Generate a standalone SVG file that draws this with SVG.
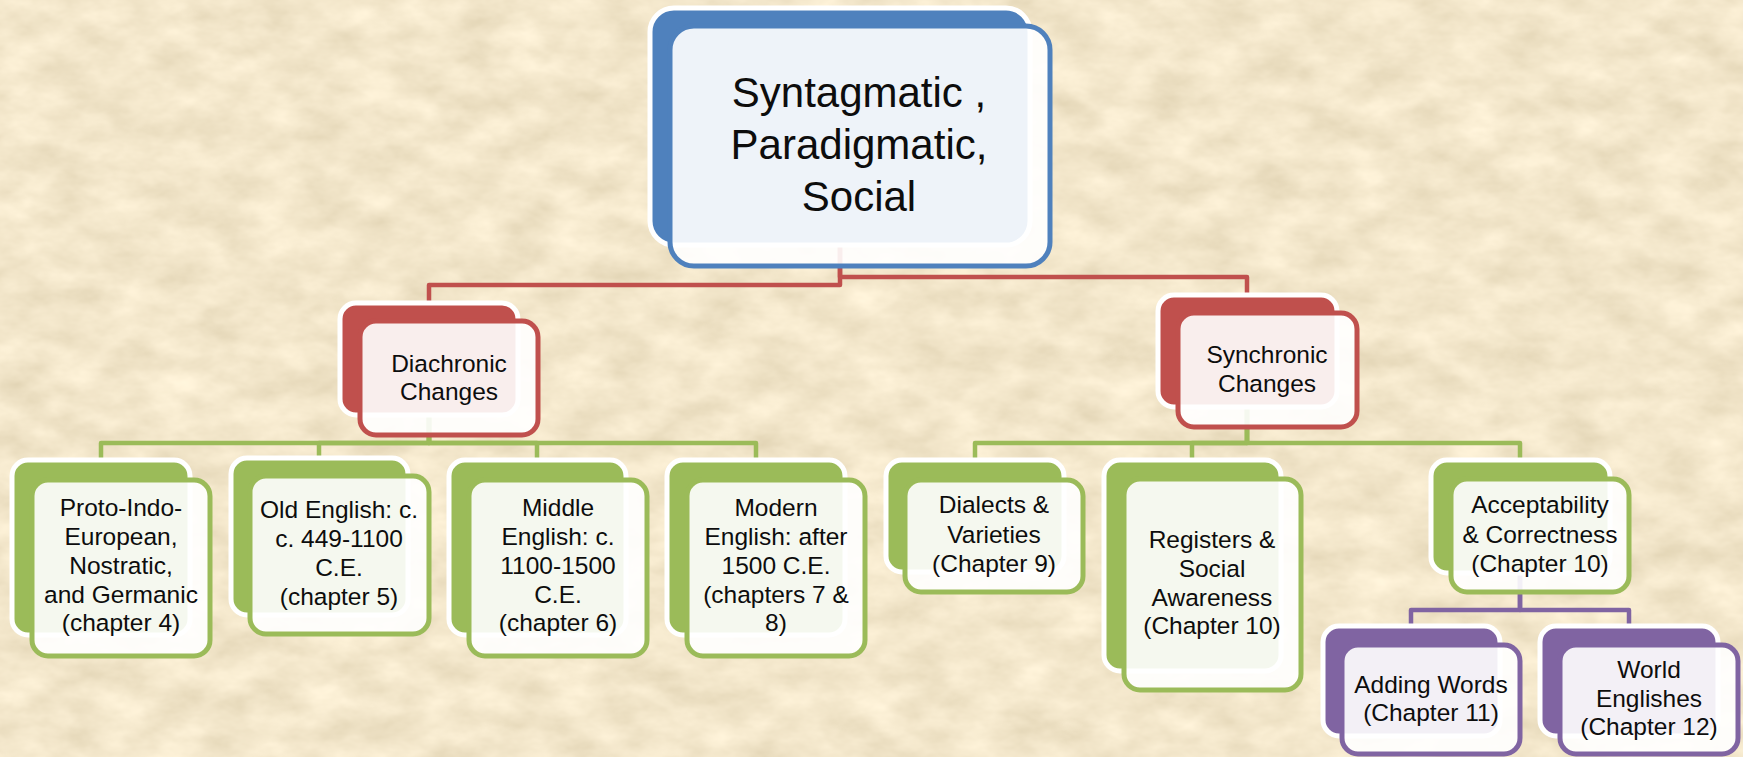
<svg xmlns="http://www.w3.org/2000/svg" width="1743" height="757" viewBox="0 0 1743 757">
<defs>
<filter id="paper" x="0" y="0" width="100%" height="100%" filterUnits="userSpaceOnUse">
<feTurbulence type="fractalNoise" baseFrequency="0.02 0.035" numOctaves="4" seed="7" result="n"/>
<feColorMatrix in="n" type="matrix" values="0.3 0 0 0 0.745  0.3 0 0 0 0.645  0.3 0 0 0 0.445  0 0 0 0 1"/>
</filter>
<style>
.t{font-family:"Liberation Sans",Arial,sans-serif;font-size:24.5px;fill:#0d0d0d;text-anchor:middle}
.tr{font-family:"Liberation Sans",Arial,sans-serif;font-size:42px;fill:#0d0d0d;text-anchor:middle}
.bk{stroke:#ffffff;stroke-width:5}
.fr{fill:#ffffff;fill-opacity:0.9;stroke-width:5}
.blue .bk{fill:#4f81bd}.blue .fr{stroke:#4f81bd}
.red .bk{fill:#c0504d}.red .fr{stroke:#c0504d}
.green .bk{fill:#9bbb59}.green .fr{stroke:#9bbb59}
.purple .bk{fill:#8064a2}.purple .fr{stroke:#8064a2}
.c{fill:none;stroke-width:4.5;stroke-linejoin:round}
.cr{stroke:#c0504d}.cg{stroke:#9bbb59}.cp{stroke:#8064a2}
</style>
</defs>
<rect x="0" y="0" width="1743" height="757" fill="#e6cd9c"/>
<rect x="0" y="0" width="1743" height="757" filter="url(#paper)"/>
<g id="connectors">
<path class="c cr" d="M840,245 V285 H429 V303"/>
<path class="c cr" d="M840,245 V277 H1247 V295"/>
<path class="c cg" d="M429,415 V443 H101 V460"/>
<path class="c cg" d="M429,415 V443 H319 V458"/>
<path class="c cg" d="M429,415 V443 H537 V460"/>
<path class="c cg" d="M429,415 V443 H756 V460"/>
<path class="c cg" d="M1247,407 V443 H975 V460"/>
<path class="c cg" d="M1247,407 V443 H1192 V460"/>
<path class="c cg" d="M1247,407 V443 H1520 V460"/>
<path class="c cp" d="M1520,573 V610 H1411 V626"/>
<path class="c cp" d="M1520,573 V610 H1629 V626"/>
</g>
<g id="root" class="blue">
<rect class="bk" x="650" y="8" width="380" height="237" rx="24"/>
<rect class="fr" x="670" y="26" width="380" height="240" rx="24"/>
<text class="tr" x="859" y="107">Syntagmatic ,</text>
<text class="tr" x="859" y="159">Paradigmatic,</text>
<text class="tr" x="859" y="211">Social</text>
</g>
<g id="diachronic" class="red">
<rect class="bk" x="340" y="303" width="178" height="112" rx="16"/>
<rect class="fr" x="360" y="321" width="178" height="114" rx="16"/>
<text class="t" x="449" y="372">Diachronic</text>
<text class="t" x="449" y="400">Changes</text>
</g>
<g id="synchronic" class="red">
<rect class="bk" x="1158" y="295" width="179" height="112" rx="16"/>
<rect class="fr" x="1178" y="313" width="179" height="114" rx="16"/>
<text class="t" x="1267" y="363">Synchronic</text>
<text class="t" x="1267" y="392">Changes</text>
</g>
<g id="proto" class="green">
<rect class="bk" x="12" y="460" width="178" height="175" rx="16"/>
<rect class="fr" x="32" y="480" width="178" height="176" rx="16"/>
<text class="t" x="121" y="516">Proto-Indo-</text>
<text class="t" x="121" y="545">European,</text>
<text class="t" x="121" y="574">Nostratic,</text>
<text class="t" x="121" y="603">and Germanic</text>
<text class="t" x="121" y="631">(chapter 4)</text>
</g>
<g id="old-english" class="green">
<rect class="bk" x="231" y="458" width="177" height="157" rx="16"/>
<rect class="fr" x="250" y="476" width="179" height="158" rx="16"/>
<text class="t" x="339" y="518">Old English: c.</text>
<text class="t" x="339" y="547">c. 449-1100</text>
<text class="t" x="339" y="576">C.E.</text>
<text class="t" x="339" y="605">(chapter 5)</text>
</g>
<g id="middle-english" class="green">
<rect class="bk" x="449" y="460" width="177" height="175" rx="16"/>
<rect class="fr" x="469" y="480" width="178" height="176" rx="16"/>
<text class="t" x="558" y="516">Middle</text>
<text class="t" x="558" y="545">English: c.</text>
<text class="t" x="558" y="574">1100-1500</text>
<text class="t" x="558" y="603">C.E.</text>
<text class="t" x="558" y="631">(chapter 6)</text>
</g>
<g id="modern-english" class="green">
<rect class="bk" x="667" y="460" width="178" height="175" rx="16"/>
<rect class="fr" x="687" y="480" width="178" height="176" rx="16"/>
<text class="t" x="776" y="516">Modern</text>
<text class="t" x="776" y="545">English: after</text>
<text class="t" x="776" y="574">1500 C.E.</text>
<text class="t" x="776" y="603">(chapters 7 &amp;</text>
<text class="t" x="776" y="631">8)</text>
</g>
<g id="dialects" class="green">
<rect class="bk" x="886" y="460" width="178" height="112" rx="16"/>
<rect class="fr" x="905" y="480" width="178" height="112" rx="16"/>
<text class="t" x="994" y="513">Dialects &amp;</text>
<text class="t" x="994" y="543">Varieties</text>
<text class="t" x="994" y="572">(Chapter 9)</text>
</g>
<g id="registers" class="green">
<rect class="bk" x="1104" y="460" width="177" height="211" rx="16"/>
<rect class="fr" x="1124" y="479" width="177" height="211" rx="16"/>
<text class="t" x="1212" y="548">Registers &amp;</text>
<text class="t" x="1212" y="577">Social</text>
<text class="t" x="1212" y="606">Awareness</text>
<text class="t" x="1212" y="634">(Chapter 10)</text>
</g>
<g id="acceptability" class="green">
<rect class="bk" x="1431" y="460" width="179" height="113" rx="16"/>
<rect class="fr" x="1451" y="479" width="178" height="113" rx="16"/>
<text class="t" x="1540" y="513">Acceptability</text>
<text class="t" x="1540" y="543">&amp; Correctness</text>
<text class="t" x="1540" y="572">(Chapter 10)</text>
</g>
<g id="adding-words" class="purple">
<rect class="bk" x="1323" y="626" width="177" height="110" rx="16"/>
<rect class="fr" x="1342" y="645" width="178" height="109" rx="16"/>
<text class="t" x="1431" y="693">Adding Words</text>
<text class="t" x="1431" y="721">(Chapter 11)</text>
</g>
<g id="world-englishes" class="purple">
<rect class="bk" x="1540" y="626" width="178" height="110" rx="16"/>
<rect class="fr" x="1560" y="645" width="178" height="109" rx="16"/>
<text class="t" x="1649" y="678">World</text>
<text class="t" x="1649" y="707">Englishes</text>
<text class="t" x="1649" y="735">(Chapter 12)</text>
</g>
</svg>
